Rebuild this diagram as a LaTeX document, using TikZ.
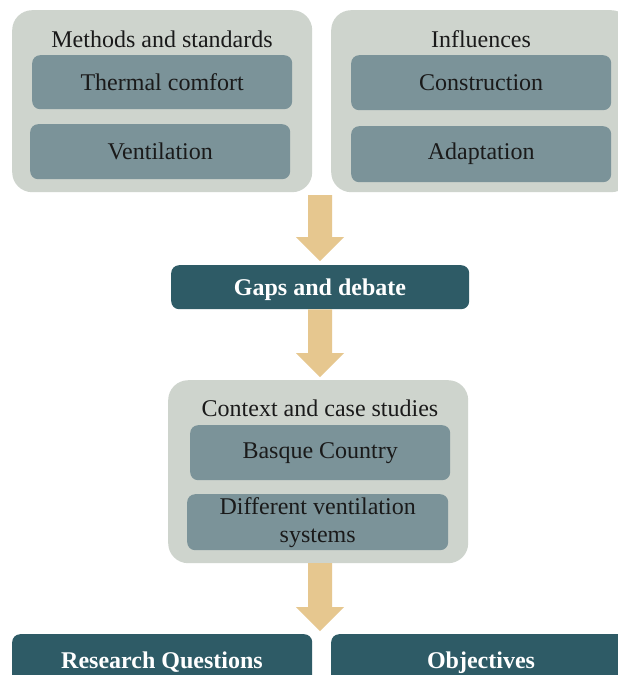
\documentclass[tikz,border=0pt]{standalone}
\usepackage{fontspec}
\setmainfont{Liberation Serif}
\usetikzlibrary{calc}
\definecolor{panel}{HTML}{CED4CD}
\definecolor{itembox}{HTML}{7B9399}
\definecolor{darkteal}{HTML}{2E5B66}
\definecolor{flowarrow}{HTML}{E6C78F}
\definecolor{ink}{HTML}{1A1A1A}
\tikzset{
  panelbox/.style={fill=panel, rounded corners=20pt, anchor=north west, inner sep=0pt},
  itemcard/.style={fill=itembox, rounded corners=8pt, anchor=north west, inner sep=0pt},
  keybox/.style={fill=darkteal, rounded corners=8pt, anchor=north west, inner sep=0pt},
  heading/.style={text=ink, font=\fontsize{24}{28}\selectfont, anchor=base},
  itemtext/.style={text=ink, font=\fontsize{24}{28}\selectfont, align=center},
  keytext/.style={text=white, font=\fontsize{24}{28}\selectfont\bfseries, anchor=base},
  blockarrow/.style={fill=flowarrow}
}
% Fat downward arrow from a start point to a tip point
\newcommand{\flowdown}[2]{%
  \fill[blockarrow] ($(#1)+(-12,0)$) -- ($(#2)+(-12,-24)$) -- ($(#2)+(-24,-24)$)
    -- (#2) -- ($(#2)+(24,-24)$) -- ($(#2)+(12,-24)$) -- ($(#1)+(12,0)$) -- cycle;}
\begin{document}
\begin{tikzpicture}[x=1pt,y=-1pt]
\useasboundingbox (0,0) rectangle (618,675);
\clip (0,0) rectangle (618,675);
\fill[white] (0,0) rectangle (618,675);

% Top left panel: methods and standards
\node[panelbox, minimum width=300pt, minimum height=182pt] (methods) at (12,10) {};
\node[heading] (methodsT) at (162,47) {Methods and standards};
\node[itemcard, minimum width=260pt, minimum height=54pt] (thermal) at (32,55) {};
\node[itemtext] at (thermal.center) {Thermal comfort};
\node[itemcard, minimum width=260pt, minimum height=55pt] (vent) at (30,124) {};
\node[itemtext] at (vent.center) {Ventilation};

% Top right panel: influences
\node[panelbox, minimum width=300pt, minimum height=182pt] (infl) at (331,10) {};
\node[heading] (inflT) at (481,47) {Influences};
\node[itemcard, minimum width=260pt, minimum height=55pt] (constr) at (351,55) {};
\node[itemtext] at (constr.center) {Construction};
\node[itemcard, minimum width=260pt, minimum height=56pt] (adapt) at (351,126) {};
\node[itemtext] at (adapt.center) {Adaptation};

% Gaps and debate
\node[keybox, minimum width=298pt, minimum height=44pt] (gaps) at (171,265) {};
\node[keytext] at (320,295) {Gaps and debate};

% Context panel
\node[panelbox, minimum width=300pt, minimum height=183pt] (context) at (168,380) {};
\node[heading] (contextT) at (320,416) {Context and case studies};
\node[itemcard, minimum width=260pt, minimum height=55pt] (basque) at (190,425) {};
\node[itemtext] at (basque.center) {Basque Country};
\node[itemcard, minimum width=261pt, minimum height=56pt] (diff) at (187,494) {};
\node[itemtext] at (diff.center) {Different ventilation\\systems};

% Bottom boxes
\node[keybox, minimum width=300pt, minimum height=60pt] (rq) at (12,634) {};
\node[keytext] at (162,668) {Research Questions};
\node[keybox, minimum width=300pt, minimum height=60pt] (obj) at (331,634) {};
\node[keytext] at (481,668) {Objectives};

% Flow arrows
\coordinate (a1s) at (320,195);
\coordinate (a1t) at (320,261);
\flowdown{a1s}{a1t}
\coordinate (a2t) at (320,377);
\flowdown{gaps.south}{a2t}
\coordinate (a3s) at (320,563);
\coordinate (a3t) at (320,631);
\flowdown{a3s}{a3t}
\end{tikzpicture}
\end{document}
